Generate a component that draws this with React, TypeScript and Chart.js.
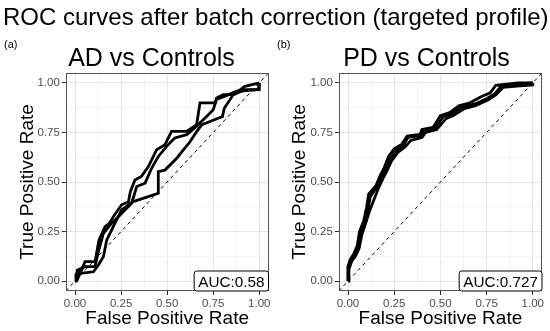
import React, { useEffect, useRef } from 'react';
import { Chart, registerables } from 'chart.js';

Chart.register(...registerables);

const FONT = "'Liberation Sans', Arial, sans-serif";

// ---- data ----
const mainTitle = 'ROC curves after batch correction (targeted profile)';
const panelTitles = ['AD vs Controls', 'PD vs Controls'];
const panelTags = ['(a)', '(b)'];
const aucLabels = ['AUC:0.58', 'AUC:0.727'];
const xAxisTitle = 'False Positive Rate';
const yAxisTitle = 'True Positive Rate';
const majorTicks = [0, 0.25, 0.5, 0.75, 1];
const minorTicks = [0.125, 0.375, 0.625, 0.875];

// AD vs Controls (three resampled ROC curves)
const adFpr1 = [0, 0.005, 0.036, 0.054, 0.108, 0.115, 0.13, 0.163, 0.185, 0.208, 0.253, 0.29, 0.3, 0.325, 0.36, 0.398, 0.443, 0.488, 0.524, 0.606, 0.66, 0.678, 0.76, 0.768, 0.805, 0.86, 0.922, 1];
const adTpr1 = [0, 0.035, 0.056, 0.098, 0.098, 0.13, 0.207, 0.275, 0.29, 0.325, 0.385, 0.4, 0.45, 0.51, 0.528, 0.578, 0.663, 0.688, 0.755, 0.755, 0.789, 0.899, 0.899, 0.924, 0.941, 0.941, 0.983, 1];
const adFpr2 = [0.009, 0.012, 0.054, 0.108, 0.127, 0.154, 0.19, 0.235, 0.271, 0.307, 0.335, 0.38, 0.416, 0.452, 0.497, 0.542, 0.606, 0.66, 0.714, 0.75, 0.768, 0.814, 0.877, 0.995, 1];
const adTpr2 = [0, 0.055, 0.073, 0.073, 0.148, 0.241, 0.283, 0.325, 0.359, 0.393, 0.477, 0.494, 0.57, 0.629, 0.68, 0.722, 0.739, 0.781, 0.831, 0.865, 0.916, 0.933, 0.958, 0.966, 1];
const adFpr3 = [0.009, 0.027, 0.1, 0.127, 0.154, 0.172, 0.217, 0.253, 0.316, 0.452, 0.452, 0.488, 0.552, 0.588, 0.624, 0.66, 0.687, 0.732, 0.777, 0.8, 0.81, 0.859, 0.922, 1, 1];
const adTpr3 = [0, 0.039, 0.047, 0.081, 0.123, 0.207, 0.292, 0.359, 0.401, 0.443, 0.552, 0.56, 0.62, 0.662, 0.703, 0.754, 0.788, 0.805, 0.822, 0.83, 0.872, 0.941, 0.966, 0.966, 1];

// PD vs Controls
const pdFpr1 = [0, 0, 0.012, 0.03, 0.05, 0.062, 0.085, 0.1, 0.112, 0.15, 0.175, 0.195, 0.22, 0.25, 0.29, 0.32, 0.39, 0.4, 0.46, 0.5, 0.55, 0.6, 0.66, 0.72, 0.77, 0.8, 0.92, 1];
const pdTpr1 = [0, 0.075, 0.11, 0.135, 0.18, 0.25, 0.305, 0.37, 0.44, 0.48, 0.535, 0.57, 0.63, 0.668, 0.69, 0.732, 0.74, 0.765, 0.775, 0.835, 0.85, 0.885, 0.9, 0.93, 0.95, 0.988, 1, 1];
const pdFpr2 = [0, 0.005, 0.02, 0.04, 0.06, 0.075, 0.095, 0.115, 0.14, 0.165, 0.19, 0.21, 0.235, 0.27, 0.31, 0.34, 0.4, 0.42, 0.48, 0.53, 0.57, 0.63, 0.69, 0.76, 0.8, 0.84, 0.93, 1, 1];
const pdTpr2 = [0, 0.06, 0.1, 0.125, 0.165, 0.235, 0.29, 0.35, 0.41, 0.47, 0.52, 0.555, 0.605, 0.65, 0.678, 0.71, 0.725, 0.75, 0.765, 0.82, 0.835, 0.87, 0.885, 0.915, 0.94, 0.978, 0.985, 0.99, 1];
const pdFpr3 = [0, 0, 0.015, 0.035, 0.055, 0.07, 0.09, 0.108, 0.12, 0.155, 0.182, 0.2, 0.228, 0.262, 0.3, 0.325, 0.395, 0.41, 0.47, 0.515, 0.56, 0.615, 0.69, 0.75, 0.795, 0.825, 0.92, 1];
const pdTpr3 = [0, 0.068, 0.105, 0.13, 0.17, 0.24, 0.3, 0.36, 0.425, 0.475, 0.525, 0.56, 0.618, 0.66, 0.685, 0.725, 0.735, 0.76, 0.77, 0.83, 0.843, 0.878, 0.895, 0.92, 0.945, 0.98, 0.995, 1];

const panelCurves = [
  [[adFpr1, adTpr1], [adFpr2, adTpr2], [adFpr3, adTpr3]],
  [[pdFpr1, pdTpr1], [pdFpr2, pdTpr2], [pdFpr3, pdTpr3]],
];

const allTicks = [...majorTicks, ...minorTicks].sort((a, b) => a - b);
const isMajor = (v: number) => majorTicks.some((m) => Math.abs(m - v) < 1e-9);

// layout (canvas coordinates, each canvas 275 x 331)
const CW = 275;
const CH = 331;
const layouts = [
  { areaLeft: 65.8, areaRight: 268.5, titleX: 151.5, tagX: 4, yTitleX: 33 },
  { areaLeft: 63.8, areaRight: 267, titleX: 151.5, tagX: 2, yTitleX: 29.5 },
];
const AREA_TOP = 73;
const AREA_BOTTOM = 291;

const decor = {
  id: 'decor',
  afterDatasetsDraw(chart: any, _args: any, opts: any) {
    const { ctx, chartArea: a } = chart;
    ctx.save();
    // panel border
    ctx.strokeStyle = '#555555';
    ctx.lineWidth = 1;
    ctx.strokeRect(Math.round(a.left) + 0.5, Math.round(a.top) + 0.5, Math.round(a.right - a.left) - 1, Math.round(a.bottom - a.top) - 1);
    // AUC label
    ctx.font = `15.3px ${FONT}`;
    const tw = ctx.measureText(opts.auc).width;
    const padX = 4;
    const h = 20;
    const w = tw + padX * 2;
    const x1 = a.right - w;
    const y1 = a.bottom - h;
    const r = 2.5;
    ctx.beginPath();
    ctx.moveTo(x1 + r, y1);
    ctx.lineTo(x1 + w - r, y1);
    ctx.quadraticCurveTo(x1 + w, y1, x1 + w, y1 + r);
    ctx.lineTo(x1 + w, y1 + h - r);
    ctx.quadraticCurveTo(x1 + w, y1 + h, x1 + w - r, y1 + h);
    ctx.lineTo(x1 + r, y1 + h);
    ctx.quadraticCurveTo(x1, y1 + h, x1, y1 + h - r);
    ctx.lineTo(x1, y1 + r);
    ctx.quadraticCurveTo(x1, y1, x1 + r, y1);
    ctx.closePath();
    ctx.fillStyle = '#ffffff';
    ctx.fill();
    ctx.strokeStyle = '#000000';
    ctx.lineWidth = 1;
    ctx.stroke();
    ctx.fillStyle = '#000000';
    ctx.textBaseline = 'alphabetic';
    ctx.textAlign = 'left';
    ctx.fillText(opts.auc, x1 + padX, a.bottom - 4.5);
    ctx.restore();
  },
  afterDraw(chart: any, _args: any, opts: any) {
    const { ctx, chartArea: a } = chart;
    ctx.save();
    ctx.fillStyle = '#000000';
    ctx.textBaseline = 'alphabetic';
    // tag
    ctx.textAlign = 'left';
    ctx.font = `11px ${FONT}`;
    ctx.fillText(opts.tag, opts.tagX, 48);
    // panel title
    ctx.textAlign = 'center';
    ctx.font = `25px ${FONT}`;
    ctx.fillText(opts.title, opts.titleX, 66);
    // x title
    ctx.font = `19px ${FONT}`;
    ctx.fillText(xAxisTitle, (a.left + a.right) / 2, 324);
    // y title
    ctx.translate(opts.yTitleX, (a.top + a.bottom) / 2);
    ctx.rotate(-Math.PI / 2);
    ctx.fillText(yAxisTitle, 0, 0);
    ctx.restore();
  },
};

function scaleOptions(axis: 'x' | 'y', lay: any) {
  return {
    type: 'linear' as const,
    min: -0.05,
    max: 1.05,
    afterBuildTicks: (s: any) => {
      s.ticks = allTicks.map((v) => ({ value: v }));
    },
    afterFit: (s: any) => {
      if (axis === 'y') s.width = lay.areaLeft;
      else s.height = CH - AREA_BOTTOM;
    },
    border: { display: false },
    grid: {
      color: (c: any) => (c.tick && isMajor(c.tick.value) ? '#E6E6E6' : '#F3F3F3'),
      lineWidth: 1,
      drawTicks: true,
      tickLength: 4,
      tickColor: (c: any) => (c.tick && isMajor(c.tick.value) ? '#333333' : 'rgba(0,0,0,0)'),
    },
    ticks: {
      autoSkip: false,
      maxRotation: 0,
      minRotation: 0,
      padding: 2,
      color: '#4D4D4D',
      font: { family: FONT, size: 11.5 },
      callback: (v: any) => (isMajor(Number(v)) ? Number(v).toFixed(2) : ''),
    },
  };
}

function buildConfig(i: number): any {
  const lay = layouts[i];
  const datasets: any[] = panelCurves[i].map(([fpr, tpr]) => ({
    data: fpr.map((x: number, k: number) => ({ x, y: tpr[k] })),
    borderColor: '#000000',
    borderWidth: 2.8,
    pointRadius: 0,
    tension: 0,
    fill: false,
    borderJoinStyle: 'miter',
  }));
  datasets.push({
    data: [
      { x: -0.05, y: -0.05 },
      { x: 1.05, y: 1.05 },
    ],
    borderColor: '#000000',
    borderWidth: 1,
    borderDash: [3.5, 3.5],
    pointRadius: 0,
    fill: false,
  });
  return {
    type: 'line',
    data: { datasets },
    options: {
      responsive: false,
      animation: false,
      devicePixelRatio: 1,
      layout: { padding: { left: 0, top: AREA_TOP, right: CW - lay.areaRight, bottom: 0 } },
      plugins: {
        legend: { display: false },
        tooltip: { enabled: false },
        title: { display: false },
        decor: {
          auc: aucLabels[i],
          tag: panelTags[i],
          tagX: lay.tagX,
          title: panelTitles[i],
          titleX: lay.titleX,
          yTitleX: lay.yTitleX,
        },
      },
      scales: {
        x: scaleOptions('x', lay),
        y: scaleOptions('y', lay),
      },
    },
    plugins: [decor],
  };
}

function Panel({ index, left }: { index: number; left: number }) {
  const ref = useRef<HTMLCanvasElement | null>(null);
  useEffect(() => {
    if (!ref.current) return;
    const chart = new Chart(ref.current, buildConfig(index));
    return () => chart.destroy();
  }, [index]);
  return (
    <canvas
      ref={ref}
      width={CW}
      height={CH}
      style={{ position: 'absolute', left, top: 0, width: CW, height: CH }}
    />
  );
}

export default function App() {
  return (
    <div style={{ position: 'fixed', left: 0, top: 0, width: 550, height: 331, background: '#ffffff', overflow: 'hidden' }}>
      <Panel index={0} left={0} />
      <Panel index={1} left={275} />
      <div
        style={{
          position: 'absolute',
          left: 3,
          top: 4.7,
          fontFamily: FONT,
          fontSize: 24,
          lineHeight: '24px',
          color: '#000000',
          whiteSpace: 'nowrap',
        }}
      >
        {mainTitle}
      </div>
    </div>
  );
}
